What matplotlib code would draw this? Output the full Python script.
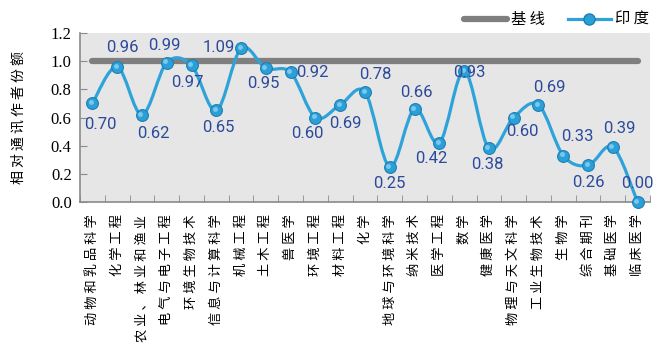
import numpy as np
import matplotlib
matplotlib.use('Agg')
import matplotlib.pyplot as plt
from matplotlib.path import Path
from matplotlib.patches import PathPatch
from matplotlib.lines import Line2D

plt.rcParams['font.family'] = ['Noto Sans CJK SC', 'DejaVu Sans']

# data
categories = ['动物和乳品科学', '化学工程', '农业、林业和渔业', '电气与电子工程',
              '环境生物技术', '信息与计算科学', '机械工程', '土木工程', '兽医学',
              '环境工程', '材料工程', '化学', '地球与环境科学', '纳米技术',
              '医学工程', '数学', '健康医学', '物理与天文科学', '工业生物技术',
              '生物学', '综合期刊', '基础医学', '临床医学']
india = [0.70, 0.96, 0.62, 0.99, 0.97, 0.65, 1.09, 0.95, 0.92, 0.60, 0.69,
         0.78, 0.25, 0.66, 0.42, 0.93, 0.38, 0.60, 0.69, 0.33, 0.26, 0.39, 0.00]
baseline = 1.0
yticks = [0.0, 0.2, 0.4, 0.6, 0.8, 1.0, 1.2]

# label offsets in pixels (style only)
label_off = [(8, -21), (5, 19), (11, -19), (-2, 17), (-4, -17), (2, -17),
             (-22, 1), (-3, -15), (22, 0), (-8, -16), (5, -19), (10, 18),
             (0, -17), (2, 17), (-8, -16), (5, -1), (-2, -16), (9, -14),
             (11, 17), (14, 19), (0, -17), (7, 19), (0, 19)]

LINE_BLUE = '#2ea3da'
LABEL_BLUE = '#2c4a9c'
GRID_GRAY = '#8a8a8a'


def spaced(s):
    # the reference draws its CJK labels with wide letter spacing
    return ' '.join(s)


fig = plt.figure(figsize=(6.63, 3.56), dpi=100)
ax = fig.add_axes([80 / 663, (356 - 202) / 356, 570 / 663, (202 - 33) / 356])
ax.set_facecolor('#e6e6e6')

x = np.arange(len(categories))
y = np.array(india, dtype=float)

# baseline
ax.plot([x[0], x[-1]], [baseline, baseline], color='#7f7f80', lw=4.5,
        solid_capstyle='round', zorder=2)

# smooth line (catmull-rom style bezier through the points)
pts = np.column_stack([x, y])
verts = [pts[0]]
codes = [Path.MOVETO]
n = len(pts)
for i in range(n - 1):
    p0 = pts[i - 1] if i > 0 else pts[i]
    p1 = pts[i]
    p2 = pts[i + 1]
    p3 = pts[i + 2] if i + 2 < n else pts[i + 1]
    c1 = p1 + (p2 - p0) / 6.0
    c2 = p2 - (p3 - p1) / 6.0
    verts += [c1, c2, p2]
    codes += [Path.CURVE4] * 3
ax.add_patch(PathPatch(Path(verts, codes), fill=False, edgecolor=LINE_BLUE,
                       lw=2.3, zorder=3, clip_on=False))

# markers
ax.plot(x, y, 'o', ms=8.5, color='#2b9fd8', mec='#1d7fb2', mew=0.8,
        zorder=4, clip_on=False)
ax.plot(x - 0.06, y + 0.008, 'o', ms=3.5, color='#8fd3f2', mec='none',
        alpha=0.8, zorder=5, clip_on=False)

for xi, yi, off in zip(x, y, label_off):
    ax.annotate(f'{yi:.2f}', (xi, yi), xytext=off, textcoords='offset pixels',
                ha='center', va='center', fontsize=12, color=LABEL_BLUE,
                family=['Roboto', 'DejaVu Sans'], zorder=6)

ax.set_xlim(-0.5, len(categories) - 0.5)
ax.set_ylim(0, 1.2)
ax.set_yticks(yticks)
ax.set_yticklabels([f'{t:.1f}' for t in yticks],
                   family=['Liberation Serif', 'DejaVu Serif'], fontsize=12)
ax.set_xticks(x)
ax.set_xticklabels([spaced(c) for c in categories], rotation=90, fontsize=9.5,
                   va='top', ha='center')
ax.set_xticks(np.arange(len(categories) + 1) - 0.5, minor=True)
ax.tick_params(axis='x', which='major', length=0, pad=9)
ax.tick_params(axis='x', which='minor', length=5, direction='in', color=GRID_GRAY)
ax.tick_params(axis='y', length=5, direction='in', color=GRID_GRAY, pad=6)

for s in ['top', 'right']:
    ax.spines[s].set_visible(False)
for s in ['left', 'bottom']:
    ax.spines[s].set_color(GRID_GRAY)
    ax.spines[s].set_linewidth(1.2)

ax.set_ylabel(spaced('相对通讯作者份额'), fontsize=10, labelpad=18)

handles = [Line2D([], [], color='#7f7f80', lw=4.5, solid_capstyle='round'),
           Line2D([], [], color=LINE_BLUE, lw=2.3, marker='o', ms=8,
                  mfc='#2b9fd8', mec='#1d7fb2')]
fig.legend(handles, [spaced('基线'), spaced('印度')], loc='center right', ncol=2,
           bbox_to_anchor=(1.0, 0.945), frameon=False, fontsize=11,
           handlelength=2.8, columnspacing=1.5, handletextpad=0.3)

fig.savefig('out.png', dpi=100)
